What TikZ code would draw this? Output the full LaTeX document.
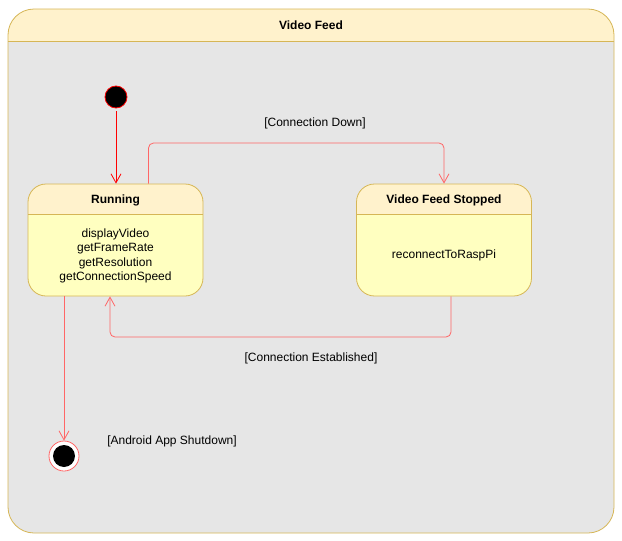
\documentclass[tikz,border=0pt]{standalone}
\usepackage{fontspec}
\setmainfont{Liberation Sans}
\usetikzlibrary{arrows.meta}
\definecolor{hdrfill}{HTML}{FFF2CC}
\definecolor{hdrline}{HTML}{D6B656}
\definecolor{bodyfill}{HTML}{FFFFC0}
\definecolor{feedfill}{HTML}{E6E6E6}
\definecolor{transred}{HTML}{FF6666}
\tikzset{
  hdr/.style = {path picture={
      \fill[hdrfill, sharp corners] (path picture bounding box.north west)
        rectangle ([yshift=-#1]path picture bounding box.north east);
      \draw[hdrline] ([yshift=-#1]path picture bounding box.north west) --
        ([yshift=-#1]path picture bounding box.north east);}},% bandeau du haut
  feedbox/.style = {rectangle, draw=hdrline, fill=feedfill, inner sep=0pt,
    rounded corners=26pt, minimum width=606pt, minimum height=524pt,
    hdr=32pt},% etat compose
  statebox/.style = {rectangle, draw=hdrline, fill=bodyfill, inner sep=0pt,
    rounded corners=18pt, minimum width=175pt, minimum height=112pt,
    hdr=30pt},% etat simple
  title/.style = {font=\fontsize{12pt}{14.5pt}\selectfont\bfseries,
    inner sep=0pt},% nom de l'etat
  methods/.style = {align=center, inner sep=0pt},% activites
  guard/.style = {inner sep=0pt},% condition
  initial/.style = {circle, draw=red, fill=black, minimum size=22pt,
    inner sep=0pt},% etat initial
  final/.style = {circle, draw=transred, fill=white, minimum size=30pt,
    inner sep=0pt, path picture={\fill[black]
      (path picture bounding box.center) circle (11pt);}},% etat final
  trans/.style = {->, draw=transred, rounded corners=5pt}% transition
}
\begin{document}
\begin{tikzpicture}[x=1pt, y=-1pt, line width=0.8pt,
  >={Straight Barb[length=9pt,width=10pt]},
  font=\fontsize{12pt}{14.5pt}\selectfont]
\useasboundingbox (0,0) rectangle (622,541);
\node [feedbox] (feed) at (311,271) {};
\node [title] (feed-title) at (311,25) {Video Feed};

\node [initial] (init) at (116,97) {};
\node [statebox] (run) at (115.5,240) {};
\node [title] (run-title) at (115.5,200) {Running};
\node [methods] (run-body) at (115.5,256)
  {displayVideo\\getFrameRate\\getResolution\\getConnectionSpeed};
\node [statebox] (stop) at (444,240) {};
\node [title] (stop-title) at (444,200) {Video Feed Stopped};
\node [methods] (stop-body) at (444,255) {reconnectToRaspPi};
\node [final] (end) at (64,456) {};

\coordinate (down) at (300,143);
\coordinate (up) at (300,337);
\node [guard] (down-lbl) at (315,123) {[Connection Down]};
\node [guard] (up-lbl) at (311,358) {[Connection Established]};
\node [guard] (end-lbl) at (172,441) {[Android App Shutdown]};

\draw [->, draw=red] ([yshift=-3pt]init.south) -- (init |- run.north);
\draw [trans] ([xshift=33pt]run.north) |- (down) -| (stop.north);
\draw [trans] ([xshift=7pt]stop.south) |- (up) -| ([xshift=-5.5pt]run.south);
\draw [trans] (end |- run.south) -- (end);
\end{tikzpicture}
\end{document}
